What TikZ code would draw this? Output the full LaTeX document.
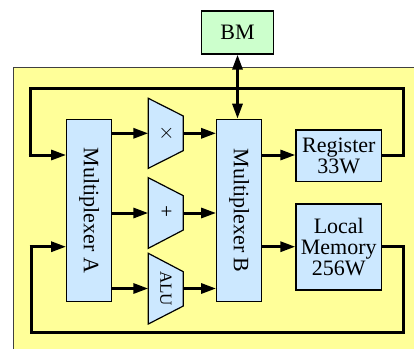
\documentclass[tikz,border=0pt]{standalone}
\usepackage{fontspec}
\setmainfont{Liberation Serif}
\usetikzlibrary{arrows.meta}
\definecolor{ybg}{RGB}{255,255,153}
\definecolor{bbox}{RGB}{204,232,255}
\definecolor{gbox}{RGB}{204,255,204}
\tikzset{
  blk/.style={draw=black, line width=1.2pt, fill=bbox, inner sep=0pt, align=center,
    font=\fontsize{22}{21}\selectfont},
  conn/.style={line width=3pt},
  arr/.style={conn, -{Triangle[length=15pt,width=10pt]}},
  darr/.style={conn, {Triangle[length=15pt,width=10pt]}-{Triangle[length=15pt,width=10pt]}},
  unit/.style={draw=black, line width=1.2pt, fill=bbox},
  ulab/.style={inner sep=0pt, font=\fontsize{17}{17}\selectfont},
  sym/.style={inner sep=0pt, font=\fontsize{21}{21}\selectfont}
}
\begin{document}
\begin{tikzpicture}[x=1pt,y=-1pt]
\useasboundingbox (0,0) rectangle (414,349);
% background region
\fill[ybg] (13,67) rectangle (414,349);
\draw[black!75, line width=1pt] (13,349) -- (13,67) -- (414,67);

% boxes
\node[blk, fill=gbox, minimum width=71.6pt, minimum height=43pt] (BM) at (237.5,32.5) {BM};
\node[blk, minimum width=45pt, minimum height=182.4pt] (muxA) at (89.2,210.5) {\rotatebox{-90}{Multiplexer A}};
\node[blk, minimum width=45pt, minimum height=182.4pt] (muxB) at (239.2,210.5) {\rotatebox{-90}{Multiplexer B}};
\node[blk, minimum width=85.7pt, minimum height=51.7pt] (reg) at (338.8,155.8) {Register\\33W};
\node[blk, minimum width=85.7pt, minimum height=86pt] (mem) at (338.8,247) {Local\\Memory\\256W};

% functional units (trapezoids)
\draw[unit] (148.3,98.3) -- (183.3,116) -- (183.3,150.6) -- (148.3,168.3) -- cycle;
\draw[unit] (148.3,177.7) -- (183.3,195.7) -- (183.3,230) -- (148.3,248.3) -- cycle;
\draw[unit] (148.3,253.3) -- (183.3,271.7) -- (183.3,306) -- (148.3,324) -- cycle;
\node[sym] (mul) at (166.5,133.3) {$\times$};
\node[sym] (add) at (166.5,213) {+};
\node[ulab] (alu) at (165.8,288.7) {\rotatebox{-90}{ALU}};
\coordinate (mulL) at (148.3,133.3);
\coordinate (mulR) at (183.3,133.3);
\coordinate (addL) at (148.3,213);
\coordinate (addR) at (183.3,213);
\coordinate (aluL) at (148.3,288.5);
\coordinate (aluR) at (183.3,288.5);

% connectors
\draw[arr] (muxA.east |- mulL) -- (mulL);
\draw[arr] (muxA.east |- addL) -- (addL);
\draw[arr] (muxA.east |- aluL) -- (aluL);
\draw[arr] (mulR) -- (muxB.west |- mulR);
\draw[arr] (addR) -- (muxB.west |- addR);
\draw[arr] (aluR) -- (muxB.west |- aluR);

\coordinate (regOut) at (381.7,155);
\coordinate (memOut) at (381.7,246.7);
\draw[arr] (muxB.east |- regOut) -- (reg.west |- regOut);
\draw[arr] (muxB.east |- memOut) -- (mem.west |- memOut);

\coordinate (tr) at (403,88.3);
\coordinate (tl) at (30,88.3);
\coordinate (br) at (403,332.3);
\coordinate (bl) at (31,332.3);
\draw[conn, line join=miter] (regOut) -- (tr |- regOut) -- (tr) -- (tl) -- (tl |- regOut);
\draw[arr] ([xshift=-1.5pt]tl |- regOut) -- (muxA.west |- regOut);
\draw[conn, line join=miter] (memOut) -- (br |- memOut) -- (br) -- (bl) -- (bl |- memOut);
\draw[arr] ([xshift=-1.5pt]bl |- memOut) -- (muxA.west |- memOut);

\draw[darr] (BM.south) -- (BM.south |- muxB.north);
\end{tikzpicture}
\end{document}
